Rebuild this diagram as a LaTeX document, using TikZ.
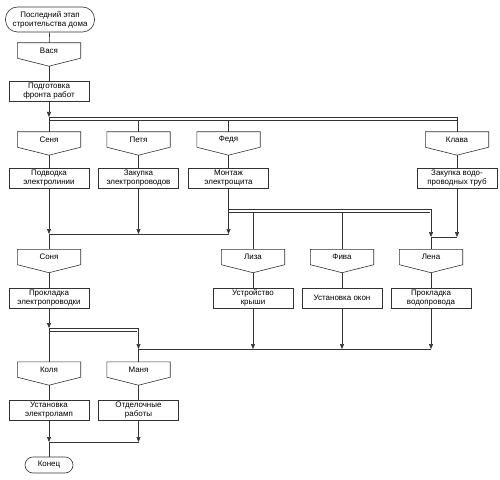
\documentclass[tikz,border=0pt]{standalone}
\usepackage{fontspec}
\setmainfont{Liberation Sans}
\usetikzlibrary{arrows.meta}

\begin{document}
\begin{tikzpicture}[x=1bp, y=-1bp]
    % --- Style Definitions ---
    \tikzset{
        line style/.style={
            draw=black!80,
            line width=0.6bp
        },
        label text/.style={
            font=\fontsize{8}{9}\selectfont,
            align=center,
            inner sep=0pt
        },
        task box/.style={
            label text,
            line style,
            minimum width=80bp,
            minimum height=20bp
        },
        person box/.style={
            label text,
            minimum width=63bp,
            minimum height=15bp
        },
        terminal box/.style={
            label text,
            line style,
            rounded corners=8bp
        },
        flow arrow/.style={
            line style,
            -{Triangle[length=5bp, width=4bp]}
        }
    }

    \useasboundingbox (0,0) rectangle (500,480);

    % --- 1. Start and end ---
    \node[terminal box, rounded corners=12bp, minimum width=89bp, minimum height=25bp]
        (start) at (50,19.5) {Последний этап\\строительства дома};
    \node[terminal box, minimum width=48bp, minimum height=16bp]
        (finish) at (49,465) {Конец};

    % --- 2. Performers (pentagons) ---
    \node[person box] (vasya) at (49,50.5)   {Вася};
    \node[person box] (senya) at (49,139.5)  {Сеня};
    \node[person box] (petya) at (138.5,139.5) {Петя};
    \node[person box] (fedya) at (228.5,139.5) {Федя};
    \node[person box] (klava) at (457,139.5) {Клава};
    \node[person box] (sonya) at (49,257)    {Соня};
    \node[person box] (liza)  at (253,257)   {Лиза};
    \node[person box] (fiva)  at (342,257)   {Фива};
    \node[person box] (lena)  at (431,257)   {Лена};
    \node[person box] (kolya) at (49,369.5)  {Коля};
    \node[person box] (manya) at (138.5,369.5) {Маня};

    \foreach \p in {vasya, senya, petya, fedya, klava, sonya, liza, fiva, lena, kolya, manya} {
        \draw[line style] (\p.north west) -- (\p.north east) -- (\p.south east)
            -- ([yshift=-8bp]\p.south) coordinate (\p-tip) -- (\p.south west) -- cycle;
    }

    % --- 3. Works ---
    \node[task box] (prep)      at (49,91)    {Подготовка\\фронта работ};
    \node[task box] (wiring)    at (49,178)   {Подводка\\электролинии};
    \node[task box] (wires)     at (138.5,178) {Закупка\\электропроводов};
    \node[task box] (panel)     at (228.5,178) {Монтаж\\электрощита};
    \node[task box] (pipes)     at (457,178)  {Закупка водо-\\проводных труб};
    \node[task box] (cabling)   at (49,298)   {Прокладка\\электропроводки};
    \node[task box] (roof)      at (253,298)  {Устройство\\крыши};
    \node[task box] (windows)   at (342,298)  {Установка окон};
    \node[task box] (plumbing)  at (431,298)  {Прокладка\\водопровода};
    \node[task box] (lamps)     at (49,410)   {Установка\\электроламп};
    \node[task box] (finishing) at (138.5,410) {Отделочные\\работы};

    % --- 4. Junction points ---
    \coordinate (forkA)  at (49,117);
    \coordinate (forkA2) at (49,120);
    \coordinate (joinB)  at (49,234);
    \coordinate (forkC)  at (228.5,209);
    \coordinate (forkC2) at (228.5,212);
    \coordinate (joinD)  at (431,237);
    \coordinate (forkE)  at (49,328);
    \coordinate (forkE2) at (49,331);
    \coordinate (joinF)  at (138.5,349);
    \coordinate (joinG)  at (49,442);

    % --- 5. Connectors ---
    \draw[line style] (start) -- (vasya);
    \draw[line style] (vasya-tip) -- (prep);
    \draw[flow arrow] (prep) -- (forkA);
    \draw[line style] (forkA) -| (klava.north);
    \draw[line style] (forkA2) -- (forkA2 -| klava);
    \draw[line style] (forkA) -- (senya);
    \draw[line style] (forkA2 -| petya) -- (petya);
    \draw[line style] (forkA2 -| fedya) -- (fedya);

    \foreach \p/\w in {senya/wiring, petya/wires, fedya/panel, klava/pipes,
                       sonya/cabling, liza/roof, fiva/windows, lena/plumbing,
                       kolya/lamps, manya/finishing} {
        \draw[line style] (\p-tip) -- (\w);
    }

    \draw[flow arrow] (wiring) -- (joinB);
    \draw[line style] (joinB) -- (sonya);
    \draw[flow arrow] (wires) -- (joinB -| wires);
    \draw[flow arrow] (panel) -- (joinB -| panel);
    \draw[line style] (joinB) -- (joinB -| panel);

    \draw[flow arrow] (forkC) -| (joinD);
    \draw[line style] (forkC2) -- ([xshift=-1.5bp]forkC2 -| lena);
    \draw[line style] (forkC2 -| liza) -- (liza);
    \draw[line style] (forkC2 -| fiva) -- (fiva);
    \draw[flow arrow] (pipes) -- (joinD -| pipes);
    \draw[line style] (joinD) -- (joinD -| pipes);
    \draw[line style] (joinD) -- (lena);

    \draw[flow arrow] (cabling) -- (forkE);
    \draw[line style] (forkE) -- (kolya);
    \draw[flow arrow] (forkE) -| (joinF);
    \draw[line style] (forkE2) -- ([xshift=-1.5bp]forkE2 -| manya);
    \draw[line style] (joinF) -- (manya);
    \draw[flow arrow] (roof) -- (joinF -| roof);
    \draw[flow arrow] (windows) -- (joinF -| windows);
    \draw[flow arrow] (plumbing) -- (joinF -| plumbing);
    \draw[line style] (joinF) -- (joinF -| plumbing);

    \draw[flow arrow] (lamps) -- (joinG);
    \draw[flow arrow] (finishing) -- (joinG -| finishing);
    \draw[line style] (joinG) -- (joinG -| finishing);
    \draw[line style] (joinG) -- (finish);

\end{tikzpicture}
\end{document}
